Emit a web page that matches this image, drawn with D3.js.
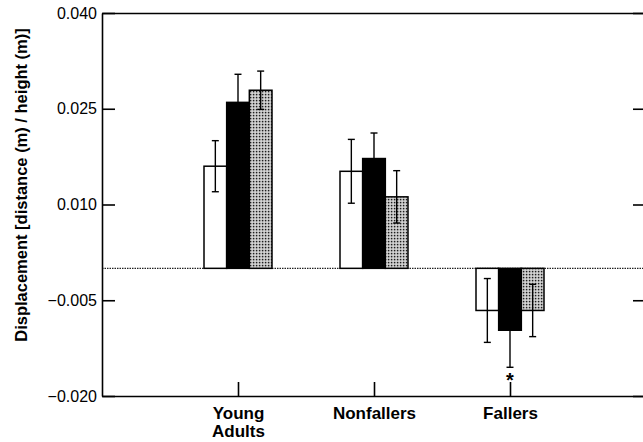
<!DOCTYPE html>
<html>
<head>
<meta charset="utf-8">
<script src="https://cdn.jsdelivr.net/npm/d3@7"></script>
<style>
  body { margin: 0; background: #fff; }
  svg { display: block; font-family: "Liberation Sans", Arial, sans-serif; }
</style>
</head>
<body>
<svg id="chart"></svg>
<script>
const width = 643;
const height = 442;
const margin = { top: 13, right: -3, bottom: 46, left: 102 };

// Groups along the x axis and the three bar series
const groups = ["Young Adults", "Nonfallers", "Fallers"];
const series = ["open", "solid", "stippled"];

// Means per series, one value per group
const openMeans = [0.0160, 0.0152, -0.0066];
const solidMeans = [0.0260, 0.0172, -0.0097];
const stippledMeans = [0.0279, 0.0112, -0.0066];

// Error bar half-lengths
const openErr = [0.0040, 0.0050, 0.0050];
const solidErr = [0.0044, 0.0040, 0.0058];
const stippledErr = [0.0030, 0.0041, 0.0041];

// Significance marker: group and series
const sigMarks = [{ group: "Fallers", series: "solid" }];

const yTicks = [-0.020, -0.005, 0.010, 0.025, 0.040];

const means = { open: openMeans, solid: solidMeans, stippled: stippledMeans };
const errs = { open: openErr, solid: solidErr, stippled: stippledErr };

const data = [];
groups.forEach((g, gi) => {
    series.forEach(s => {
        data.push({ group: g, series: s, value: means[s][gi], err: errs[s][gi] });
    });
});

const svg = d3.select("#chart")
    .attr("width", width)
    .attr("height", height);

const defs = svg.append("defs");
const pat = defs.append("pattern")
    .attr("id", "stipple")
    .attr("patternUnits", "userSpaceOnUse")
    .attr("width", 3)
    .attr("height", 3);
pat.append("rect").attr("width", 3).attr("height", 3).attr("fill", "#dcdcdc");
pat.append("rect").attr("x", 0.8).attr("y", 0.8).attr("width", 1.6).attr("height", 1.6).attr("fill", "#1e1e1e");

const x0 = margin.left;
const x1 = width - margin.right;
const yTop = margin.top;
const yBottom = height - margin.bottom;

const x = d3.scalePoint()
    .domain(groups)
    .range([x0, x1])
    .padding(1);

const groupWidth = 68;
const xInner = d3.scaleBand()
    .domain(series)
    .range([-groupWidth / 2, groupWidth / 2]);

const y = d3.scaleLinear()
    .domain([-0.020, 0.040])
    .range([yBottom, yTop]);

const fills = { open: "#fff", solid: "#000", stippled: "url(#stipple)" };

// Zero reference line (dotted)
svg.append("line")
    .attr("x1", x0).attr("x2", x1)
    .attr("y1", y(0)).attr("y2", y(0))
    .attr("stroke", "#222")
    .attr("stroke-width", 1.4)
    .attr("stroke-dasharray", "1.5,1");

// Bars
svg.append("g")
    .selectAll("rect")
    .data(data)
    .join("rect")
    .attr("x", d => x(d.group) + xInner(d.series))
    .attr("width", xInner.bandwidth())
    .attr("y", d => y(Math.max(0, d.value)))
    .attr("height", d => Math.abs(y(d.value) - y(0)))
    .attr("fill", d => fills[d.series])
    .attr("stroke", "#000")
    .attr("stroke-width", 1.5);

// Error bars
const eb = svg.append("g")
    .attr("stroke", "#000")
    .attr("stroke-width", 1.4)
    .selectAll("g")
    .data(data)
    .join("g")
    .attr("transform", d => `translate(${x(d.group) + xInner(d.series) + xInner.bandwidth() / 2},0)`);

eb.append("line")
    .attr("y1", d => y(d.value - d.err))
    .attr("y2", d => y(d.value + d.err));
eb.append("line")
    .attr("x1", -3.5).attr("x2", 3.5)
    .attr("y1", d => y(d.value + d.err))
    .attr("y2", d => y(d.value + d.err));
eb.append("line")
    .attr("x1", -3.5).attr("x2", 3.5)
    .attr("y1", d => y(d.value - d.err))
    .attr("y2", d => y(d.value - d.err));

// Significance star
svg.append("g")
    .selectAll("text")
    .data(sigMarks)
    .join("text")
    .attr("x", d => x(d.group) + xInner(d.series) + xInner.bandwidth() / 2)
    .attr("y", d => {
        const row = data.find(r => r.group === d.group && r.series === d.series);
        return y(row.value - row.err) + 20;
    })
    .attr("text-anchor", "middle")
    .style("font-size", "20px")
    .style("font-weight", "bold")
    .text("*");

// Axes
const yAxis = svg.append("g")
    .attr("transform", `translate(${x0},0)`)
    .call(d3.axisLeft(y).tickValues(yTicks).tickFormat(d3.format(".3f"))
        .tickSizeInner(-13).tickSizeOuter(0).tickPadding(5));

const yAxisRight = svg.append("g")
    .attr("transform", `translate(${x1},0)`)
    .call(d3.axisRight(y).tickValues(yTicks).tickFormat("")
        .tickSizeInner(-13).tickSizeOuter(0));

const xAxis = svg.append("g")
    .attr("transform", `translate(0,${yBottom})`)
    .call(d3.axisBottom(x).tickSizeInner(-14).tickSizeOuter(0).tickPadding(11));

const xAxisTop = svg.append("g")
    .attr("transform", `translate(0,${yTop})`)
    .call(d3.axisTop(x).tickSize(0).tickFormat(""));

svg.selectAll(".domain, .tick line")
    .attr("stroke", "#000")
    .attr("stroke-width", 1.6);

yAxis.selectAll("text")
    .attr("fill", "#000")
    .style("font-size", "16px");

xAxis.selectAll("text")
    .attr("fill", "#000")
    .style("font-size", "17px")
    .style("font-weight", "bold")
    .each(function(d) {
        const t = d3.select(this);
        const words = d.split(" ");
        t.text(null);
        words.forEach((w, i) => {
            t.append("tspan")
                .attr("x", 0)
                .attr("dy", i === 0 ? "0.71em" : "1.08em")
                .text(w);
        });
    });

// Y axis title
svg.append("text")
    .attr("transform", `translate(27,${185}) rotate(-90)`)
    .attr("text-anchor", "middle")
    .style("font-size", "16.5px")
    .style("font-weight", "bold")
    .text("Displacement [distance (m) / height (m)]");
</script>
</body>
</html>
